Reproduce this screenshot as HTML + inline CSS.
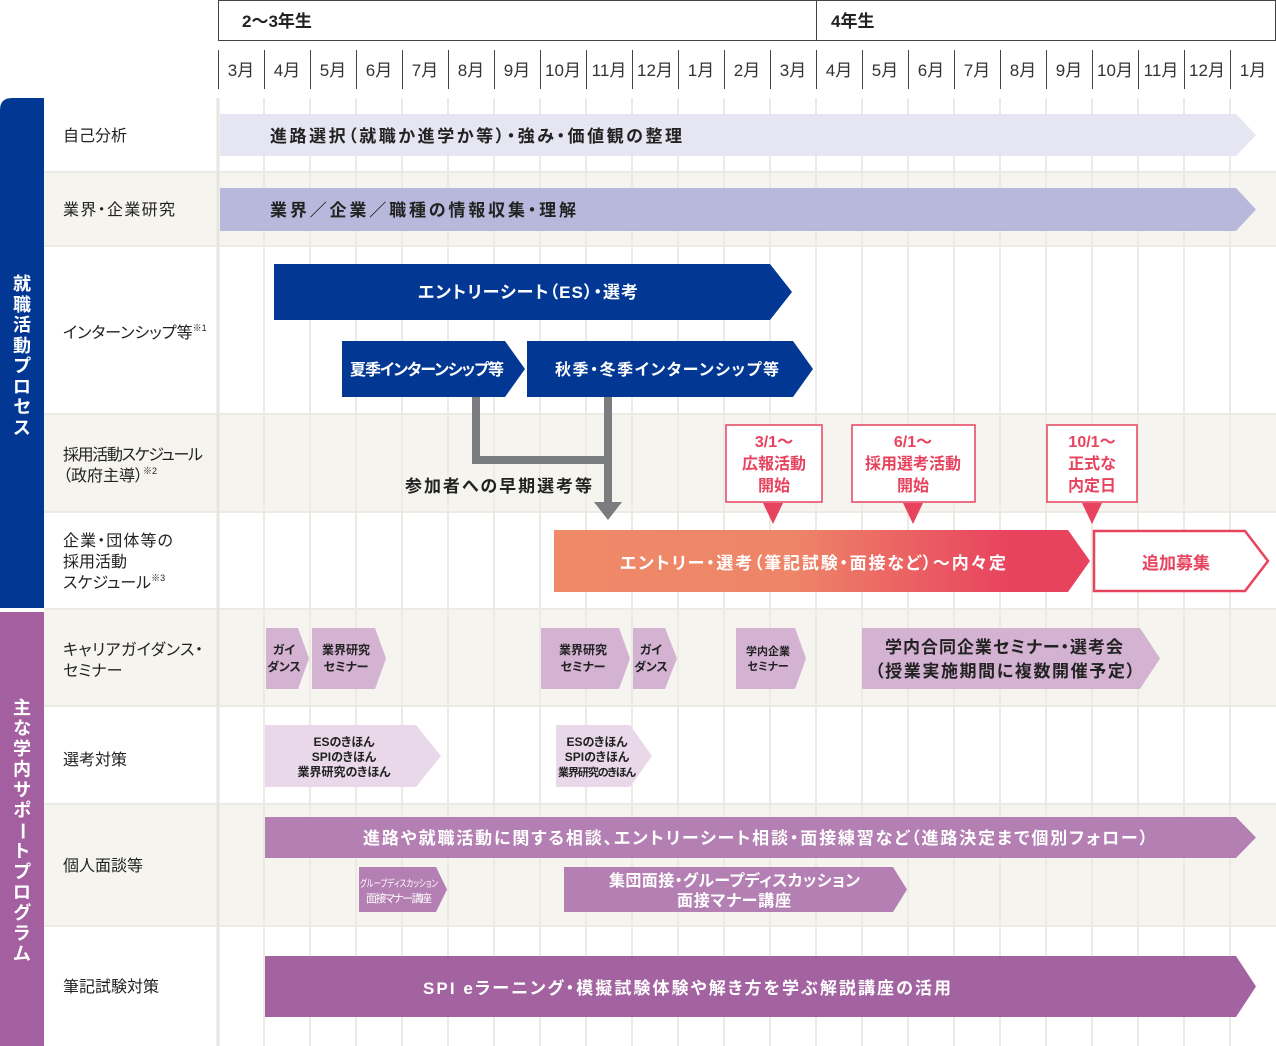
<!DOCTYPE html>
<html><head><meta charset="utf-8">
<style>
body{margin:0;background:#fff;}
svg{display:block;font-family:"Liberation Sans","Noto Sans CJK JP",sans-serif;font-feature-settings:"palt";}
.b{font-weight:bold;}
</style></head><body>
<svg width="1276" height="1046" viewBox="0 0 1276 1046" xmlns="http://www.w3.org/2000/svg">
<rect x="218.5" y="0.5" width="1057" height="40" fill="#fff" stroke="#444"/>
<line x1="816.5" y1="0" x2="816.5" y2="40" stroke="#444"/>
<text x="242" y="27" font-size="17" class="b" fill="#222">2～3年生</text>
<text x="831" y="27" font-size="17" class="b" fill="#222">4年生</text>
<g font-size="17" fill="#333" text-anchor="middle">
<text x="241" y="76">3月</text><text x="287" y="76">4月</text><text x="333" y="76">5月</text><text x="379" y="76">6月</text><text x="425" y="76">7月</text><text x="471" y="76">8月</text><text x="517" y="76">9月</text><text x="563" y="76">10月</text><text x="609" y="76">11月</text><text x="655" y="76">12月</text><text x="701" y="76">1月</text><text x="747" y="76">2月</text><text x="793" y="76">3月</text><text x="839" y="76">4月</text><text x="885" y="76">5月</text><text x="931" y="76">6月</text><text x="977" y="76">7月</text><text x="1023" y="76">8月</text><text x="1069" y="76">9月</text><text x="1115" y="76">10月</text><text x="1161" y="76">11月</text><text x="1207" y="76">12月</text><text x="1253" y="76">1月</text>
</g>
<g stroke="#444" stroke-width="1">
<line x1="218.5" y1="50" x2="218.5" y2="89"/><line x1="264.5" y1="50" x2="264.5" y2="89"/><line x1="310.5" y1="50" x2="310.5" y2="89"/><line x1="356.5" y1="50" x2="356.5" y2="89"/><line x1="402.5" y1="50" x2="402.5" y2="89"/><line x1="448.5" y1="50" x2="448.5" y2="89"/><line x1="494.5" y1="50" x2="494.5" y2="89"/><line x1="540.5" y1="50" x2="540.5" y2="89"/><line x1="586.5" y1="50" x2="586.5" y2="89"/><line x1="632.5" y1="50" x2="632.5" y2="89"/><line x1="678.5" y1="50" x2="678.5" y2="89"/><line x1="724.5" y1="50" x2="724.5" y2="89"/><line x1="770.5" y1="50" x2="770.5" y2="89"/><line x1="816.5" y1="50" x2="816.5" y2="89"/><line x1="862.5" y1="50" x2="862.5" y2="89"/><line x1="908.5" y1="50" x2="908.5" y2="89"/><line x1="954.5" y1="50" x2="954.5" y2="89"/><line x1="1000.5" y1="50" x2="1000.5" y2="89"/><line x1="1046.5" y1="50" x2="1046.5" y2="89"/><line x1="1092.5" y1="50" x2="1092.5" y2="89"/><line x1="1138.5" y1="50" x2="1138.5" y2="89"/><line x1="1184.5" y1="50" x2="1184.5" y2="89"/><line x1="1230.5" y1="50" x2="1230.5" y2="89"/>
</g>
<rect x="44" y="98" width="1232" height="74" fill="#fff"/>
<rect x="44" y="172" width="1232" height="74" fill="#f5f4ef"/>
<rect x="44" y="246" width="1232" height="168" fill="#fff"/>
<rect x="44" y="414" width="1232" height="98" fill="#f5f4ef"/>
<rect x="44" y="512" width="1232" height="96" fill="#fff"/>
<rect x="44" y="610" width="1232" height="96" fill="#f5f4ef"/>
<rect x="44" y="706" width="1232" height="98" fill="#fff"/>
<rect x="44" y="804" width="1232" height="122" fill="#f5f4ef"/>
<rect x="44" y="926" width="1232" height="120" fill="#fff"/>
<g stroke="#ebeae3" stroke-width="2">
<line x1="264" y1="98" x2="264" y2="1046"/><line x1="310" y1="98" x2="310" y2="1046"/><line x1="356" y1="98" x2="356" y2="1046"/><line x1="402" y1="98" x2="402" y2="1046"/><line x1="448" y1="98" x2="448" y2="1046"/><line x1="494" y1="98" x2="494" y2="1046"/><line x1="540" y1="98" x2="540" y2="1046"/><line x1="586" y1="98" x2="586" y2="1046"/><line x1="632" y1="98" x2="632" y2="1046"/><line x1="678" y1="98" x2="678" y2="1046"/><line x1="724" y1="98" x2="724" y2="1046"/><line x1="770" y1="98" x2="770" y2="1046"/><line x1="816" y1="98" x2="816" y2="1046"/><line x1="862" y1="98" x2="862" y2="1046"/><line x1="908" y1="98" x2="908" y2="1046"/><line x1="954" y1="98" x2="954" y2="1046"/><line x1="1000" y1="98" x2="1000" y2="1046"/><line x1="1046" y1="98" x2="1046" y2="1046"/><line x1="1092" y1="98" x2="1092" y2="1046"/><line x1="1138" y1="98" x2="1138" y2="1046"/><line x1="1184" y1="98" x2="1184" y2="1046"/><line x1="1230" y1="98" x2="1230" y2="1046"/>
<line x1="44" y1="172" x2="1276" y2="172"/><line x1="44" y1="246" x2="1276" y2="246"/><line x1="44" y1="414" x2="1276" y2="414"/><line x1="44" y1="512" x2="1276" y2="512"/><line x1="44" y1="609" x2="1276" y2="609"/><line x1="44" y1="706" x2="1276" y2="706"/><line x1="44" y1="804" x2="1276" y2="804"/><line x1="44" y1="926" x2="1276" y2="926"/>
</g>
<line x1="218" y1="98" x2="218" y2="1046" stroke="#e6e5df" stroke-width="3"/>
<path d="M0 110 Q0 98 12 98 L44 98 L44 608 L0 608 Z" fill="#023893"/>
<path d="M0 612 L44 612 L44 1046 L0 1046 Z" fill="#a35f9f"/>
<g font-size="18" class="b" fill="#fff" text-anchor="middle">
<text x="22" y="290">就</text><text x="22" y="311">職</text><text x="22" y="331">活</text><text x="22" y="352">動</text><text x="22" y="372">プ</text><text x="22" y="393">ロ</text><text x="22" y="413">セ</text><text x="22" y="434">ス</text>
<text x="22" y="714">主</text><text x="22" y="734.5">な</text><text x="22" y="755">学</text><text x="22" y="775.5">内</text><text x="22" y="796">サ</text><text x="22" y="816.5">ポ</text><text x="22" y="837" transform="rotate(90 22 831)">ー</text><text x="22" y="857.5">ト</text><text x="22" y="878">プ</text><text x="22" y="898.5">ロ</text><text x="22" y="919">グ</text><text x="22" y="939.5">ラ</text><text x="22" y="960">ム</text>
</g>
<g font-size="16" fill="#222">
<text x="63" y="141">自己分析</text>
<text x="63" y="215" textLength="112">業界・企業研究</text>
<text x="63" y="338">インターンシップ等<tspan font-size="9" dy="-7">※1</tspan></text>
<text x="63" y="460" textLength="140">採用活動スケジュール</text>
<text x="63" y="481">（政府主導）<tspan font-size="9" dy="-7">※2</tspan></text>
<text x="63" y="546" textLength="110">企業・団体等の</text>
<text x="63" y="567">採用活動</text>
<text x="63" y="588">スケジュール<tspan font-size="9" dy="-7">※3</tspan></text>
<text x="63" y="655" textLength="140">キャリアガイダンス・</text>
<text x="63" y="676">セミナー</text>
<text x="63" y="765">選考対策</text>
<text x="63" y="871">個人面談等</text>
<text x="63" y="992">筆記試験対策</text>
</g>
<polygon points="220,114 1236,114 1256,135 1236,156 220,156" fill="#e6e6f3"/>
<text x="270" y="142" font-size="17" class="b" fill="#222" textLength="412">進路選択（就職か進学か等）・強み・価値観の整理</text>
<polygon points="220,188 1236,188 1256,209.5 1236,231 220,231" fill="#b8b8dc"/>
<text x="270" y="216" font-size="17" class="b" fill="#222" textLength="306">業界／企業／職種の情報収集・理解</text>
<polygon points="274,264 770,264 792,292 770,320 274,320" fill="#023893"/>
<text x="418" y="298" font-size="17" class="b" fill="#fff" textLength="220">エントリーシート（ES）・選考</text>
<polygon points="342,341 505,341 525,369 505,397 342,397" fill="#023893"/>
<text x="350" y="375" font-size="16" class="b" fill="#fff" textLength="154">夏季インターンシップ等</text>
<polygon points="527,341 793,341 813,369 793,397 527,397" fill="#023893"/>
<text x="555" y="375" font-size="16" class="b" fill="#fff" textLength="224">秋季・冬季インターンシップ等</text>
<path d="M476 397 L476 460 L608 460 M608 397 L608 505" stroke="#7a7c80" stroke-width="8" fill="none"/>
<polygon points="594,502 622,502 608,520" fill="#7a7c80"/>
<text x="405" y="492" font-size="17" class="b" fill="#222" textLength="187">参加者への早期選考等</text>
<g fill="#fff" stroke="#e8435e" stroke-width="1.5">
<rect x="726" y="425" width="96" height="77"/><rect x="852" y="425" width="123" height="77"/><rect x="1047" y="425" width="90" height="77"/>
</g>
<g fill="#e8435e">
<polygon points="763,503 783,503 773,524"/><polygon points="903,503 923,503 913,524"/><polygon points="1082,503 1102,503 1092,524"/>
</g>
<g font-size="16" class="b" fill="#e8435e" text-anchor="middle">
<text x="774" y="447">3/1～</text><text x="774" y="469">広報活動</text><text x="774" y="491">開始</text>
<text x="913" y="447">6/1～</text><text x="913" y="469">採用選考活動</text><text x="913" y="491">開始</text>
<text x="1092" y="447">10/1～</text><text x="1092" y="469">正式な</text><text x="1092" y="491">内定日</text>
</g>
<defs><linearGradient id="g" x1="0" x2="1"><stop offset="0" stop-color="#ef8a68"/><stop offset="0.45" stop-color="#ee8468"/><stop offset="0.85" stop-color="#e8435e"/><stop offset="1" stop-color="#e8435e"/></linearGradient></defs>
<polygon points="554,530 1068,530 1090,561 1068,592 554,592" fill="url(#g)"/>
<text x="620" y="569" font-size="17" class="b" fill="#fff" textLength="386">エントリー・選考（筆記試験・面接など）～内々定</text>
<polygon points="1094,531 1245,531 1268,561 1245,591 1094,591" fill="#fff" stroke="#e8435e" stroke-width="2.5"/>
<text x="1176" y="569" font-size="17" class="b" fill="#e8435e" text-anchor="middle">追加募集</text>
<g fill="#d3b2d2">
<polygon points="266,628 298,628 309,658.5 298,689 266,689"/>
<polygon points="312,628 375,628 386,658.5 375,689 312,689"/>
<polygon points="541,628 619,628 630,658.5 619,689 541,689"/>
<polygon points="633,628 665,628 677,658.5 665,689 633,689"/>
<polygon points="736,628 795,628 806,658.5 795,689 736,689"/>
<polygon points="862,628 1140,628 1160,658.5 1140,689 862,689"/>
</g>
<g font-size="12" class="b" fill="#222" text-anchor="middle">
<text x="284" y="654">ガイ</text><text x="284" y="671">ダンス</text>
<text x="346" y="654">業界研究</text><text x="346" y="671">セミナー</text>
<text x="583" y="654">業界研究</text><text x="583" y="671">セミナー</text>
<text x="651" y="654">ガイ</text><text x="651" y="671">ダンス</text>
<text x="768" y="655" font-size="11">学内企業</text><text x="768" y="670" font-size="11">セミナー</text>
</g>
<text x="885" y="653" font-size="17" class="b" fill="#222" textLength="238">学内合同企業セミナー・選考会</text>
<text x="875" y="677" font-size="17" class="b" fill="#222" textLength="260">（授業実施期間に複数開催予定）</text>
<polygon points="265,725 416,725 441,756 416,787 265,787" fill="#e8d8ea"/>
<polygon points="556,725 630,725 652,756 630,787 556,787" fill="#e8d8ea"/>
<g font-size="12" class="b" fill="#222" text-anchor="middle">
<text x="344" y="746">ESのきほん</text><text x="344" y="761">SPIのきほん</text><text x="344" y="776">業界研究のきほん</text>
<text x="597" y="746">ESのきほん</text><text x="597" y="761">SPIのきほん</text><text x="597" y="776" font-size="11" textLength="78">業界研究のきほん</text>
</g>
<polygon points="265,817 1236,817 1256,837.5 1236,858 265,858" fill="#b47fb2"/>
<text x="363" y="844" font-size="17" class="b" fill="#fff" textLength="785">進路や就職活動に関する相談、エントリーシート相談・面接練習など（進路決定まで個別フォロー）</text>
<polygon points="359,867 436,867 447,889.5 436,912 359,912" fill="#b47fb2"/>
<text x="360" y="887" font-size="10" fill="#fff" textLength="78" lengthAdjust="spacingAndGlyphs">グループディスカッション</text>
<text x="366" y="902" font-size="11" fill="#fff" textLength="66">面接マナー講座</text>
<polygon points="564,867 893,867 907,889.5 893,912 564,912" fill="#b47fb2"/>
<text x="609" y="886" font-size="16" class="b" fill="#fff" textLength="251">集団面接・グループディスカッション</text>
<text x="677" y="906" font-size="16" class="b" fill="#fff" textLength="114">面接マナー講座</text>
<polygon points="265,956 1236,956 1256,986.5 1236,1017 265,1017" fill="#a363a0"/>
<text x="423" y="994" font-size="17" class="b" fill="#fff" textLength="528">SPI eラーニング・模擬試験体験や解き方を学ぶ解説講座の活用</text>
</svg>
</body></html>
